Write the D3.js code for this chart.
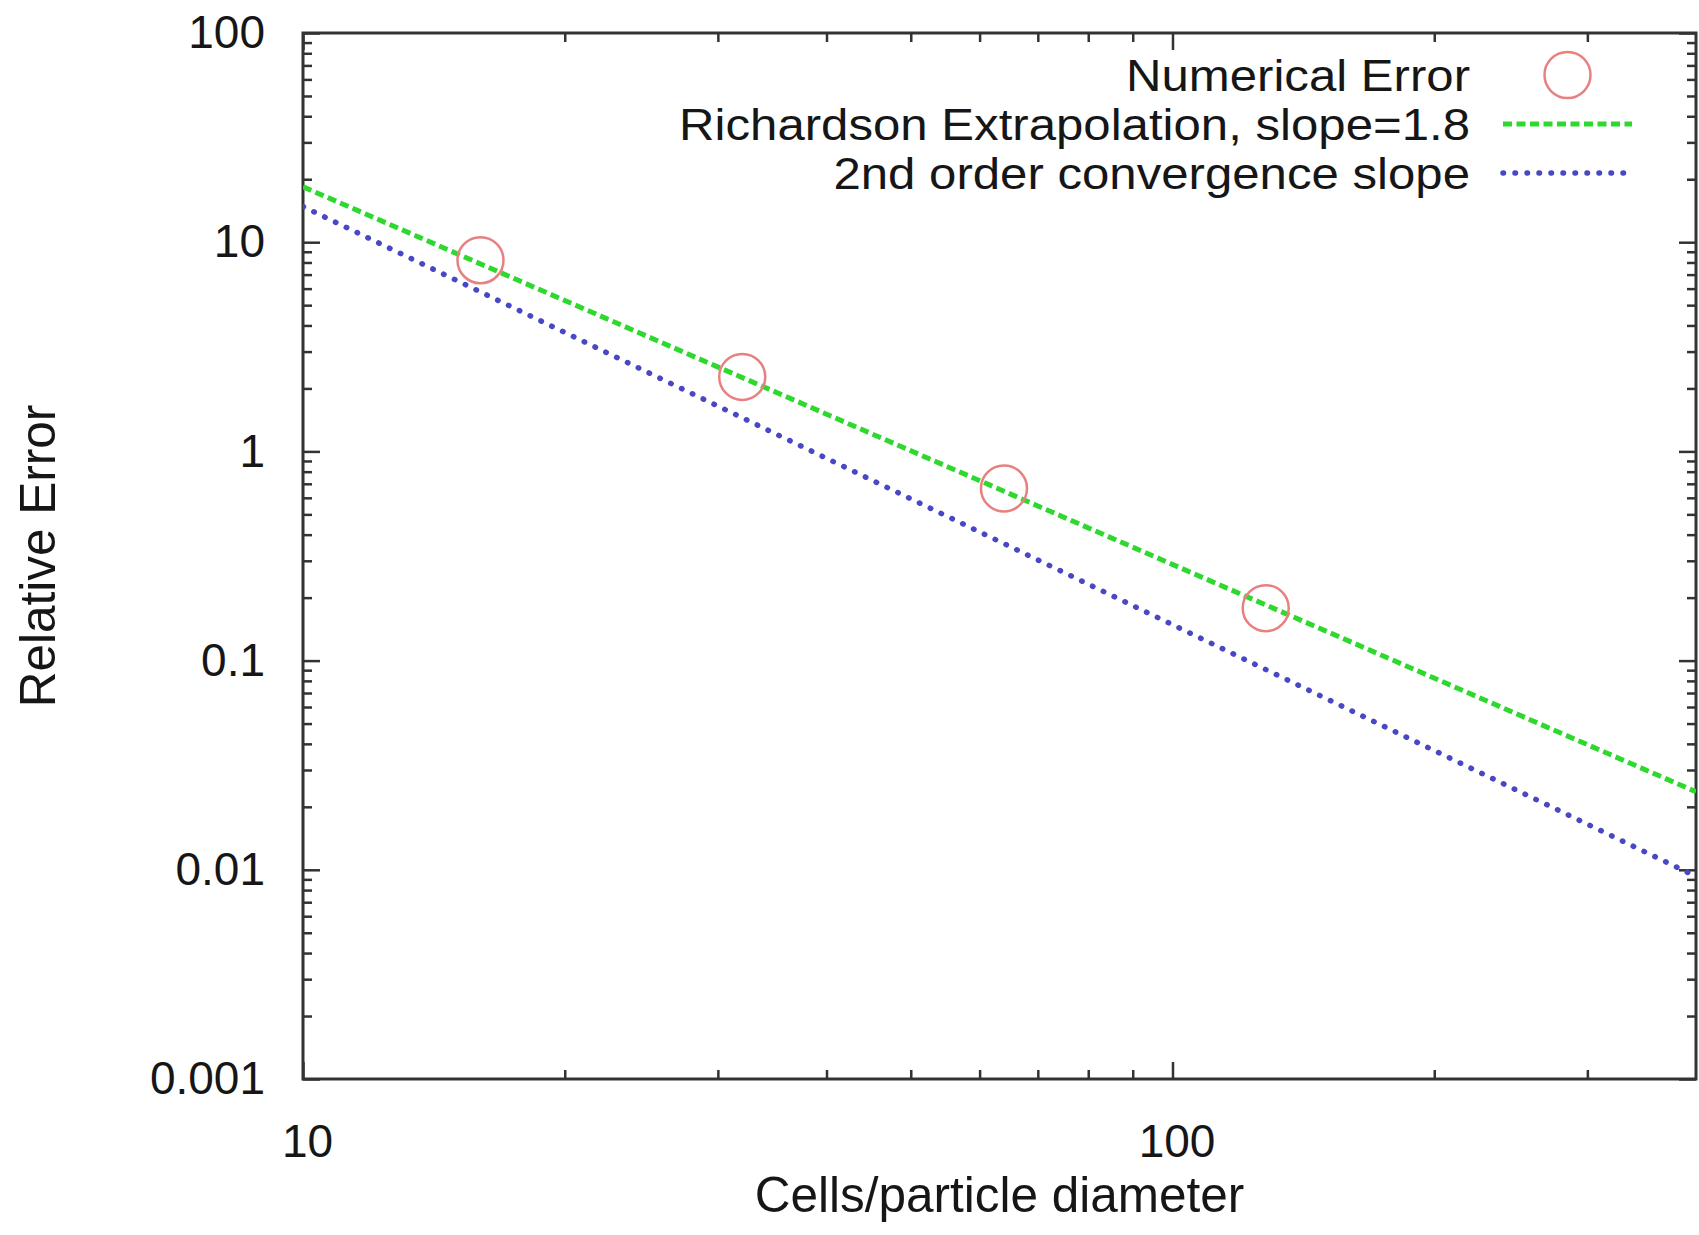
<!DOCTYPE html>
<html>
<head>
<meta charset="utf-8">
<script src="https://cdn.jsdelivr.net/npm/d3@7"></script>
<style>
  body { margin: 0; background: #fff; }
  svg text { font-family: "Liberation Sans", Arial, Helvetica, sans-serif; fill: #161616; }
</style>
</head>
<body>
<svg id="chart"></svg>
<script>
// data
const cellsPerDiameter = [16, 32, 64, 128];
const numericalError = [8.2, 2.27, 0.665, 0.178];

// fitted lines, end points at the plot edges
const lineX = [10, 400];
const richardsonY = [18.4, 0.0236];
const secondOrderY = [14.8, 0.0093];

const xTickValues = [10, 100];
const xTickLabels = ["10", "100"];
const yTickValues = [0.001, 0.01, 0.1, 1, 10, 100];
const yTickLabels = ["0.001", "0.01", "0.1", "1", "10", "100"];

const legendLabels = ["Numerical Error", "Richardson Extrapolation, slope=1.8", "2nd order convergence slope"];

const width = 1699, height = 1235;
const margin = {top: 33, right: 3, bottom: 156, left: 303};

const svg = d3.select("#chart")
    .attr("width", width)
    .attr("height", height);

svg.append("rect")
    .attr("width", width)
    .attr("height", height)
    .attr("fill", "#fff");

const x = d3.scaleLog()
    .domain([10, 400])
    .range([margin.left, width - margin.right]);

const y = d3.scaleLog()
    .domain([0.001, 100])
    .range([height - margin.bottom, margin.top]);

// minor ticks: 2..9 in every decade
const xMinor = [20, 30, 40, 50, 60, 70, 80, 90, 200, 300];
const yMinor = [];
[0.001, 0.01, 0.1, 1, 10].forEach(d => {
    d3.range(2, 10).forEach(k => yMinor.push(d * k));
});

const major = 17, minor = 9;

function styleAxis(g) {
    g.select(".domain").remove();
    g.selectAll(".tick line").attr("stroke", "#333").attr("stroke-width", 2.5);
}

// bottom / top
svg.append("g")
    .attr("transform", `translate(0,${height - margin.bottom})`)
    .call(d3.axisBottom(x).tickValues(xTickValues).tickSize(-major)
        .tickFormat((d, i) => xTickLabels[i]).tickPadding(major + 28))
    .call(styleAxis)
    .call(g => g.selectAll("text")
        .attr("font-size", 46)
        .attr("dx", 4)
        .attr("font-family", null));

svg.append("g")
    .attr("transform", `translate(0,${height - margin.bottom})`)
    .call(d3.axisBottom(x).tickValues(xMinor).tickSize(-minor).tickFormat(""))
    .call(styleAxis);

svg.append("g")
    .attr("transform", `translate(0,${margin.top})`)
    .call(d3.axisTop(x).tickValues(xTickValues).tickSize(-major).tickFormat(""))
    .call(styleAxis);

svg.append("g")
    .attr("transform", `translate(0,${margin.top})`)
    .call(d3.axisTop(x).tickValues(xMinor).tickSize(-minor).tickFormat(""))
    .call(styleAxis);

// left / right
svg.append("g")
    .attr("transform", `translate(${margin.left},0)`)
    .call(d3.axisLeft(y).tickValues(yTickValues).tickSize(-major)
        .tickFormat((d, i) => yTickLabels[i]).tickPadding(38))
    .call(styleAxis)
    .call(g => g.selectAll("text")
        .attr("font-size", 46)
        .attr("font-family", null));

svg.append("g")
    .attr("transform", `translate(${margin.left},0)`)
    .call(d3.axisLeft(y).tickValues(yMinor).tickSize(-minor).tickFormat(""))
    .call(styleAxis);

svg.append("g")
    .attr("transform", `translate(${width - margin.right},0)`)
    .call(d3.axisRight(y).tickValues(yTickValues).tickSize(-major).tickFormat(""))
    .call(styleAxis);

svg.append("g")
    .attr("transform", `translate(${width - margin.right},0)`)
    .call(d3.axisRight(y).tickValues(yMinor).tickSize(-minor).tickFormat(""))
    .call(styleAxis);

// plot border
svg.append("rect")
    .attr("x", margin.left)
    .attr("y", margin.top)
    .attr("width", width - margin.left - margin.right)
    .attr("height", height - margin.top - margin.bottom)
    .attr("fill", "none")
    .attr("stroke", "#333")
    .attr("stroke-width", 3);

// clip for the lines
svg.append("clipPath").attr("id", "plotclip")
    .append("rect")
    .attr("x", margin.left)
    .attr("y", margin.top)
    .attr("width", width - margin.left - margin.right)
    .attr("height", height - margin.top - margin.bottom);

const line = d3.line().x(d => x(d[0])).y(d => y(d[1]));

const green = "#2fd82f", blue = "#4848c4", red = "#e88080";

svg.append("path")
    .datum(d3.zip(lineX, secondOrderY))
    .attr("clip-path", "url(#plotclip)")
    .attr("d", line)
    .attr("fill", "none")
    .attr("stroke", blue)
    .attr("stroke-width", 5.5)
    .attr("stroke-linecap", "round")
    .attr("stroke-dasharray", "0.5,11.5");

svg.append("path")
    .datum(d3.zip(lineX, richardsonY))
    .attr("clip-path", "url(#plotclip)")
    .attr("d", line)
    .attr("fill", "none")
    .attr("stroke", green)
    .attr("stroke-width", 5)
    .attr("stroke-dasharray", "9,4.5");

svg.selectAll(".pt")
    .data(d3.zip(cellsPerDiameter, numericalError))
    .join("circle")
    .attr("class", "pt")
    .attr("cx", d => x(d[0]))
    .attr("cy", d => y(d[1]))
    .attr("r", 23)
    .attr("fill", "none")
    .attr("stroke", red)
    .attr("stroke-width", 2.5);

// legend (gnuplot text here is a bit wide, so stretch it horizontally)
const legend = svg.append("g");
const rowY = [75, 124, 173];
const textRight = 1470, sampleX0 = 1503, sampleX1 = 1632;

legend.append("g")
    .attr("transform", `translate(${textRight},0) scale(1.13,1)`)
    .selectAll("text")
    .data(legendLabels)
    .join("text")
    .attr("x", 0)
    .attr("y", (d, i) => rowY[i])
    .attr("dy", "0.36em")
    .attr("text-anchor", "end")
    .attr("font-size", 43.5)
    .text(d => d);

legend.append("circle")
    .attr("cx", (sampleX0 + sampleX1) / 2)
    .attr("cy", rowY[0])
    .attr("r", 23)
    .attr("fill", "none")
    .attr("stroke", red)
    .attr("stroke-width", 2.5);

legend.append("line")
    .attr("x1", sampleX0).attr("x2", sampleX1)
    .attr("y1", rowY[1]).attr("y2", rowY[1])
    .attr("stroke", green)
    .attr("stroke-width", 5)
    .attr("stroke-dasharray", "9,4.5");

legend.append("line")
    .attr("x1", sampleX0).attr("x2", sampleX1)
    .attr("y1", rowY[2]).attr("y2", rowY[2])
    .attr("stroke", blue)
    .attr("stroke-width", 5.5)
    .attr("stroke-linecap", "round")
    .attr("stroke-dasharray", "0.5,11.5");

// axis titles
svg.append("text")
    .attr("x", (margin.left + width - margin.right) / 2)
    .attr("y", 1212)
    .attr("text-anchor", "middle")
    .attr("font-size", 49.5)
    .text("Cells/particle diameter");

svg.append("text")
    .attr("transform", `translate(55,${(margin.top + height - margin.bottom) / 2}) rotate(-90)`)
    .attr("text-anchor", "middle")
    .attr("font-size", 49.5)
    .text("Relative Error");
</script>
</body>
</html>
